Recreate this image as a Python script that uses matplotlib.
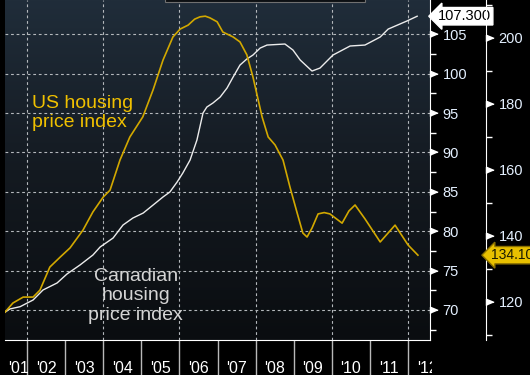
import numpy as np
import matplotlib
matplotlib.use("Agg")
import matplotlib.pyplot as plt
from matplotlib.ticker import MultipleLocator, FixedLocator, FixedFormatter, NullFormatter
from matplotlib.patches import Rectangle
from matplotlib.transforms import Bbox

plt.rcParams["font.family"] = ["Liberation Sans", "DejaVu Sans"]

# Canadian housing price index (left scale, white)
can_t = [2001.42, 2001.55, 2001.82, 2002.16, 2002.42, 2002.79, 2003.05, 2003.39,
         2003.73, 2003.92, 2004.26, 2004.52, 2004.78, 2005.05, 2005.31, 2005.57,
         2005.75, 2005.94, 2006.09, 2006.28, 2006.46, 2006.62, 2006.72, 2006.88,
         2007.07, 2007.25, 2007.41, 2007.59, 2007.77, 2007.93, 2008.12, 2008.30,
         2008.77, 2008.98, 2009.17, 2009.48, 2009.69, 2010.03, 2010.48, 2010.87,
         2011.27, 2011.48, 2011.97, 2012.24]
can_v = [69.71, 70.13, 70.42, 71.27, 72.54, 73.43, 74.57, 75.71,
         76.98, 78.00, 79.14, 80.79, 81.68, 82.31, 83.33, 84.35,
         84.98, 86.25, 87.39, 89.04, 91.58, 95.01, 95.77, 96.28,
         97.04, 98.18, 99.58, 101.10, 101.87, 102.37, 103.26, 103.64,
         103.77, 103.01, 101.74, 100.34, 100.72, 102.37, 103.52, 103.64,
         104.66, 105.67, 106.69, 107.30]

# US housing price index (right scale, yellow)
us_t = [2001.42, 2001.63, 2001.90, 2002.16, 2002.34, 2002.60, 2002.87, 2003.13,
        2003.47, 2003.73, 2004.00, 2004.18, 2004.44, 2004.70, 2005.04, 2005.31,
        2005.57, 2005.83, 2006.02, 2006.23, 2006.40, 2006.54, 2006.68, 2006.80,
        2006.99, 2007.14, 2007.41, 2007.59, 2007.77, 2007.93, 2008.17, 2008.33,
        2008.51, 2008.72, 2008.90, 2009.09, 2009.24, 2009.35, 2009.48, 2009.64,
        2009.80, 2009.95, 2010.27, 2010.45, 2010.61, 2010.87, 2011.27, 2011.66,
        2012.00, 2012.26]
us_v = [116.8, 119.6, 121.4, 121.4, 123.5, 130.5, 133.5, 136.3,
        141.7, 147.2, 151.7, 153.8, 162.9, 169.9, 176.0, 184.2,
        193.2, 200.2, 202.6, 203.8, 205.6, 206.3, 206.5, 206.0,
        204.8, 201.7, 200.2, 198.7, 194.8, 188.1, 176.0, 169.9,
        167.5, 162.9, 154.8, 146.9, 140.8, 139.6, 142.3, 146.6,
        147.0, 146.6, 143.8, 147.5, 149.3, 145.1, 138.1, 143.2,
        137.2, 134.1]

year_mid = [y + 0.5 for y in range(2001, 2013)]
year_lbl = ["'%02d" % (y % 100) for y in range(2001, 2013)]

fig = plt.figure(figsize=(5.3, 3.75), dpi=100, facecolor="black")
ax = fig.add_axes([5 / 530, 35 / 375, 425 / 530, 340 / 375])
ax.set_xlim(2001.423, 2012.577)
ax.set_ylim(66.19, 109.36)

# background gradient
grad = np.linspace(0, 1, 256).reshape(-1, 1)
cmap = matplotlib.colors.LinearSegmentedColormap.from_list(
    "bb", ["#0a0d10", "#141a21", "#202d3a"])
ax.imshow(grad, aspect="auto", cmap=cmap, origin="lower",
          extent=[0, 1, 0, 1], transform=ax.transAxes, zorder=0)

ax2 = ax.twinx()
ax2.set_ylim(108.4, 211.4)

ax.plot(can_t, can_v, color="#ececec", lw=1.0, zorder=3)
ax2.plot(us_t, us_v, color="#d2a800", lw=1.2, zorder=3)

# grid
ax.yaxis.set_major_locator(MultipleLocator(5))
ax.yaxis.set_minor_locator(MultipleLocator(2.5))
for v in np.arange(70, 106, 5):
    ax.axhline(v, color="#b4b8bc", lw=0.8, ls=(0, (2.5, 2.5)), zorder=1)
for yr in range(2002, 2013, 2):
    ax.axvline(yr, color="#b4b8bc", lw=0.8, ls=(0, (2.5, 2.5)), zorder=1)

# axes / spines
for a in (ax, ax2):
    for s in a.spines.values():
        s.set_visible(False)
ax.spines["bottom"].set_visible(True)
ax.spines["bottom"].set_color("white")
ax.spines["right"].set_visible(True)
ax.spines["right"].set_color("white")
ax2.spines["right"].set_visible(True)
ax2.spines["right"].set_color("white")
ax2.spines["right"].set_position(("outward", 56 * 0.72))

ax.yaxis.tick_right()
lblc = "#e4f0ff"
ax.tick_params(axis="y", which="major", length=0, pad=9, labelsize=10.5, labelcolor=lblc)
ax.tick_params(axis="y", which="minor", length=4, width=1, color="white", direction="out")
ax2.yaxis.set_major_locator(MultipleLocator(20))
ax2.yaxis.set_minor_locator(MultipleLocator(10))
ax2.tick_params(axis="y", which="major", length=0, pad=9, labelsize=10.5, labelcolor=lblc)
ax2.tick_params(axis="y", which="minor", length=4, width=1, color="white", direction="out")

# tick pennants
tri = [(0, -1), (0, 1), (2.4, 0)]
ticks1 = np.arange(70, 106, 5)
ax.plot(np.ones(len(ticks1)), ticks1, ls="none", marker=tri, ms=11, color="white",
        transform=ax.get_yaxis_transform(), clip_on=False, zorder=5)
ticks2 = np.arange(120, 201, 20)
ax2.plot(np.full(len(ticks2), 1 + 56 / 425), ticks2, ls="none", marker=tri, ms=11,
         color="white", transform=ax2.get_yaxis_transform(), clip_on=False, zorder=5)

# x axis: year separators + labels
ax.xaxis.set_major_locator(MultipleLocator(1))
ax.xaxis.set_major_formatter(NullFormatter())
ax.xaxis.set_minor_locator(FixedLocator(year_mid))
ax.xaxis.set_minor_formatter(FixedFormatter(year_lbl))
ax.tick_params(axis="x", which="major", length=36, width=1, color="#b8b8b8", direction="out")
ax.tick_params(axis="x", which="minor", length=0, pad=15, labelsize=11.5, labelcolor="white")
fig.canvas.draw()
mlabels = ax.get_xticklabels(minor=True)
mlabels[0].set_ha("left")
clipbox = Bbox.from_extents(0, 0, 432, 375)
for lab in mlabels:
    lab.set_clip_box(clipbox)
    lab.set_clip_on(True)

# text labels
ax.text(2002.14, 95.0, "US housing\nprice index", color="#f0c000", fontsize=14,
        ha="left", va="center", linespacing=1.15, zorder=4)
ax.text(2004.85, 71.8, "Canadian\nhousing\nprice index", color="#d4d4d4", fontsize=14,
        ha="center", va="center", linespacing=1.2, zorder=4)

# last value tags
ax.text(1.0 + 8 / 425, can_v[-1], "%.3f" % can_v[-1], transform=ax.get_yaxis_transform(),
        color="black", fontsize=10.5, ha="left", va="center", clip_on=False, zorder=6,
        bbox=dict(boxstyle="larrow,pad=0.12", fc="white", ec="white"))
ax2.text(1.0 + 61 / 425, us_v[-1], "%.3f" % us_v[-1], transform=ax2.get_yaxis_transform(),
         color="#1a1a00", fontsize=10, ha="left", va="center", clip_on=False, zorder=6,
         bbox=dict(boxstyle="larrow,pad=0.12", fc="#e8c000", ec="#8a7000"))

# top (mostly hidden) box
ax.add_patch(Rectangle((160 / 425, 1 - 1.5 / 340), 200 / 425, 0.1, transform=ax.transAxes,
                       fc="#0c0f12", ec="#707070", lw=0.8, clip_on=False, zorder=6))

fig.savefig("out.png", dpi=100, facecolor="black")
